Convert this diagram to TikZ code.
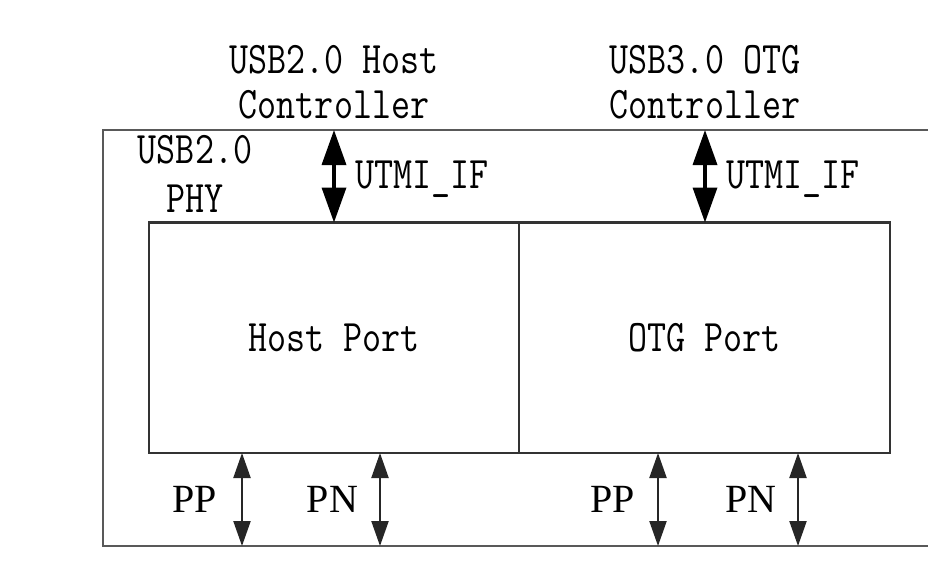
\documentclass[tikz,border=0pt]{standalone}
\usepackage{fontspec}
\usepackage{graphicx}
\usetikzlibrary{arrows.meta,positioning}
\newfontfamily\padfont{Liberation Serif}
\newcommand{\tallmono}[1]{\scalebox{1}[1.22]{\ttfamily #1}}
\tikzset{
	outerbox/.style={draw=black!65, line width=2.4pt},
	portbox/.style={draw=black!80, line width=2.2pt, minimum height=230.5pt,
		inner sep=0pt, outer sep=0pt, font=\fontsize{37}{45}\selectfont},
	monolabel/.style={inner sep=0pt, align=center},
	utmi/.style={line width=3.5pt,
		{Triangle[length=35pt,width=24pt]}-{Triangle[length=35pt,width=24pt]}},
	padline/.style={line width=2.2pt, draw=black!85,
		{Triangle[length=25pt,width=17pt]}-{Triangle[length=25pt,width=17pt]}},
	padlabel/.style={inner sep=0pt, anchor=base, font=\padfont\fontsize{40}{44}\selectfont}
}
\begin{document}
\begin{tikzpicture}[x=1pt,y=-1pt]
\useasboundingbox (0,0) rectangle (928,565);

%========================================
% PHY frame (runs off the right edge)
%========================================
\draw[outerbox] (103,130) rectangle (940,546);
\node[monolabel, anchor=north, font=\fontsize{37}{49}\selectfont] (phy) at (195,135.5)
	{\tallmono{USB2.0}\\\tallmono{PHY}};

%========================================
% Ports
%========================================
\node[portbox, minimum width=370pt] (hostport) at (334,337.75) {\tallmono{Host Port}};
\node[portbox, minimum width=371pt, right=0pt of hostport] (otgport) {\tallmono{OTG Port}};

%========================================
% Controllers above the frame
%========================================
\node[monolabel, anchor=north, font=\fontsize{37}{45}\selectfont] (hostctl) at (334,45)
	{\tallmono{USB2.0 Host}\\\tallmono{Controller}};
\node[monolabel, anchor=north, font=\fontsize{37}{45}\selectfont] (otgctl) at (705,45)
	{\tallmono{USB3.0 OTG}\\\tallmono{Controller}};

% UTMI interfaces
\coordinate (hostif) at (334,130);
\coordinate (otgif) at (705,130);
\draw[utmi] (hostif) -- (hostport.north -| hostif);
\draw[utmi] (otgif) -- (otgport.north -| otgif);
\node[monolabel, anchor=base west, font=\fontsize{37}{45}\selectfont] (hostutmi) at (355,188) {\tallmono{UTMI\_IF}};
\node[monolabel, anchor=base west, font=\fontsize{37}{45}\selectfont] (otgutmi) at (726,188) {\tallmono{UTMI\_IF}};

%========================================
% Pads below the ports
%========================================
\coordinate (hostpp) at (242,546);
\coordinate (hostpn) at (380,546);
\coordinate (otgpp) at (658,546);
\coordinate (otgpn) at (798,546);
\draw[padline] (hostport.south -| hostpp) -- (hostpp);
\draw[padline] (hostport.south -| hostpn) -- (hostpn);
\draw[padline] (otgport.south -| otgpp) -- (otgpp);
\draw[padline] (otgport.south -| otgpn) -- (otgpn);

\node[padlabel] (hostppl) at (194.5,512) {PP};
\node[padlabel] (hostpnl) at (332.5,512) {PN};
\node[padlabel] (otgppl) at (612.5,512) {PP};
\node[padlabel] (otgpnl) at (751,512) {PN};
\end{tikzpicture}
\end{document}
